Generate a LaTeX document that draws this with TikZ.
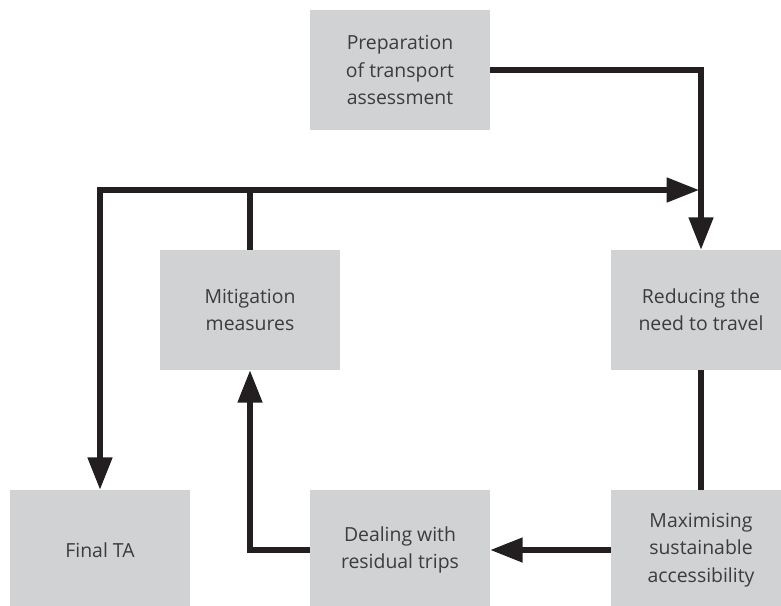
\documentclass[tikz,border=0pt]{standalone}
\usepackage{fontspec}
\setmainfont{Open Sans}
\usetikzlibrary{arrows.meta}
\definecolor{boxgrey}{RGB}{209,210,212}
\definecolor{linegrey}{RGB}{35,31,32}
\definecolor{textgrey}{RGB}{60,60,60}
\tikzset{
    block/.style={rectangle, fill=boxgrey, minimum width=4.5cm, minimum height=3cm, align=center, text=textgrey, font=\fontsize{13.8}{19.5}\selectfont},
    link/.style={draw=linegrey, line width=3.6pt},
    arr/.style={link, -{Triangle[length=23pt, width=17pt]}}
}
\begin{document}
\begin{tikzpicture}[x=0.025cm, y=-0.025cm]
    \clip (0,0) rectangle (781,605);
    \node at (400,70) [block] (prep) {Preparation\\of transport\\assessment};
    \node at (250,310) [block] (mitig) {Mitigation\\measures};
    \node at (701,310) [block] (reduce) {Reducing the\\need to travel};
    \node at (100,550) [block] (final) {Final TA};
    \node at (400,550) [block] (deal) {Dealing with\\residual trips};
    \node at (701,550) [block] (maxim) {Maximising\\sustainable\\accessibility};
    \coordinate (joint) at (699,190);
    \draw[arr] (prep.east) -| (reduce.north);
    \draw[link, {Triangle[length=23pt, width=17pt]}-{Triangle[length=23pt, width=17pt]}] (final.north) |- (joint);
    \draw[link] (mitig.north) -- (mitig.north |- joint);
    \draw[link] (reduce.south) -- (maxim.north);
    \draw[arr] (maxim.west) -- (deal.east);
    \draw[arr] (deal.west) -| (mitig.south);
\end{tikzpicture}
\end{document}
